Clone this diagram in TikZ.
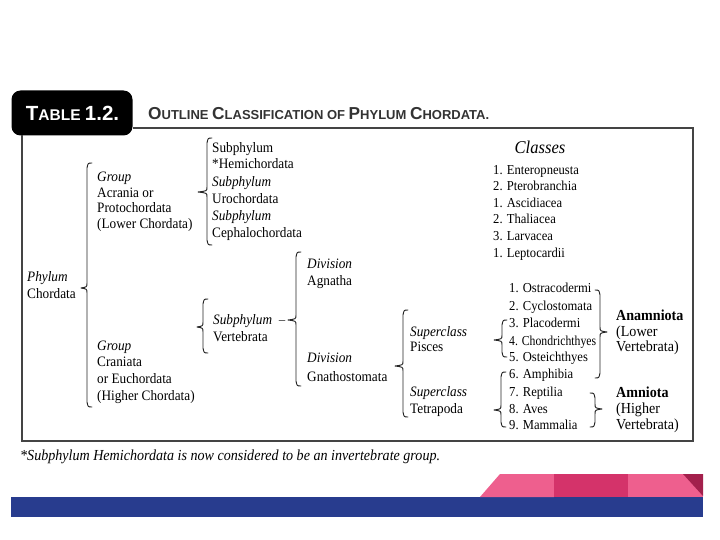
\documentclass[tikz,border=0pt]{standalone}
\usepackage{fontspec}
\setmainfont{Liberation Serif}[FakeStretch=0.92]
\newfontfamily\hdsans{Liberation Sans}
\definecolor{bandblue}{HTML}{283C8E}
\definecolor{pinkA}{HTML}{EE5F8E}
\definecolor{pinkB}{HTML}{D4336A}
\definecolor{pinkC}{HTML}{A3204C}
\definecolor{framegray}{HTML}{444444}
\newcommand\brL[5]{\draw[brace] (#1+5,#2) .. controls (#1+1,#2) .. (#1,#2+5) -- (#1,#5-5) .. controls (#1,#5-1) .. (#4,#5) .. controls (#1,#5+1) .. (#1,#5+5) -- (#1,#3-5) .. controls (#1+1,#3) .. (#1+5,#3);}
\newcommand\brR[5]{\draw[brace] (#1-5,#2) .. controls (#1-1,#2) .. (#1,#2+5) -- (#1,#5-5) .. controls (#1,#5-1) .. (#4,#5) .. controls (#1,#5+1) .. (#1,#5+5) -- (#1,#3-5) .. controls (#1-1,#3) .. (#1-5,#3);}
\begin{document}
\begin{tikzpicture}[x=1pt,y=-1pt,
  tx/.style={anchor=base west, inner sep=0pt, font=\fontsize{14.4}{16}\selectfont},
  ti/.style={anchor=base west, inner sep=0pt, font=\fontsize{14.4}{16}\selectfont\itshape},
  tl/.style={anchor=base west, inner sep=0pt, font=\fontsize{13.7}{16}\selectfont},
  tr/.style={anchor=base west, inner sep=0pt, font=\fontsize{15.3}{16}\selectfont},
  tb/.style={anchor=base west, inner sep=0pt, font=\fontsize{15.3}{16}\selectfont\bfseries},
  brace/.style={draw=black!85, line width=0.95pt, line join=round, line cap=round},
  frame/.style={draw=framegray, line width=1.1pt}]
\useasboundingbox (0,0) rectangle (720,540);
\fill[white] (0,0) rectangle (720,540);

% header
\node[fill=black, rounded corners=9pt, minimum width=121pt, minimum height=45pt, inner sep=0pt] (tab) at (72,113) {};
\node[anchor=base, inner sep=0pt, text=white, font=\hdsans\bfseries] (tabtxt) at (72.5,120.5)
  {\fontsize{20.5}{20}\selectfont T\fontsize{15.5}{15}\selectfont ABLE \fontsize{20.5}{20}\selectfont 1.2.};
\node[anchor=base west, inner sep=0pt, text=black!80, font=\hdsans\bfseries] (title) at (148,120)
  {\fontsize{17.3}{17}\selectfont O\fontsize{13}{13}\selectfont UTLINE \fontsize{17.3}{17}\selectfont C\fontsize{13}{13}\selectfont LASSIFICATION OF \fontsize{17.3}{17}\selectfont P\fontsize{13}{13}\selectfont HYLUM \fontsize{17.3}{17}\selectfont C\fontsize{13}{13}\selectfont HORDATA.};

% frame
\draw[frame] (tab.east |- 0,128) -- (693,128) -- (693,441) -- (22,441) -- (22,135.5);

% phylum
\node[ti] (ph1) at (27,281.5) {Phylum};
\node[tx] (ph2) at (27,298.5) {Chordata};
\brL{87}{163}{407}{81}{288}

% group acrania
\node[ti] (ga1) at (97,181.5) {Group};
\node[tx] (ga2) at (97,197.5) {Acrania or};
\node[tx] (ga3) at (97,213) {Protochordata};
\node[tx] (ga4) at (97,228.5) {(Lower Chordata)};
\brL{207}{138}{245}{198}{192}

% subphyla
\node[tx] (s1) at (212,152.5) {Subphylum};
\node[tx] (s2) at (212,169) {*Hemichordata};
\node[ti] (s3) at (212,186.5) {Subphylum};
\node[tx] (s4) at (212,204) {Urochordata};
\node[ti] (s5) at (212,221) {Subphylum};
\node[tx] (s6) at (212,237.5) {Cephalochordata};

% group craniata
\node[ti] (gc1) at (97,350.5) {Group};
\node[tx] (gc2) at (97,366.5) {Craniata};
\node[tx] (gc3) at (97,383) {or Euchordata};
\node[tx] (gc4) at (97,400) {(Higher Chordata)};
\brL{203}{299}{353}{197}{327}

% vertebrata
\node[ti] (v1) at (213,324.5) {Subphylum};
\node[tx] (v2) at (213,341.5) {Vertebrata};
\brL{296}{252}{386}{288}{320}
\draw[brace, draw=black!60, line width=0.7pt] (279,320) -- (285,320);

% divisions
\node[ti] (d1) at (307,268.5) {Division};
\node[tx] (d2) at (307,285.5) {Agnatha};
\node[ti] (d3) at (307,362.5) {Division};
\node[tx] (d4) at (307,381) {Gnathostomata};
\brL{403}{310}{417}{395}{366}

% classes heading
\node[anchor=base, inner sep=0pt, font=\fontsize{18}{18}\selectfont\itshape] (cls) at (540,153.5) {Classes};
\node[tl] (c1) at (493,174.5) {1. Enteropneusta};
\node[tl] (c2) at (493,190.5) {2. Pterobranchia};
\node[tl] (c3) at (493,207.5) {1. Ascidiacea};
\node[tl] (c4) at (493,224) {2. Thaliacea};
\node[tl] (c5) at (493,240.5) {3. Larvacea};
\node[tl] (c6) at (493,257.5) {1. Leptocardii};

% superclasses
\node[ti] (p1) at (410,336.5) {Superclass};
\node[tx] (p2) at (410,351.5) {Pisces};
\node[ti] (q1) at (410,396.5) {Superclass};
\node[tx] (q2) at (410,413.5) {Tetrapoda};
\brL{502}{320}{357}{494}{340}
\brL{501}{372}{427}{494}{410}

% vertebrate classes
\node[tl] (n1) at (509,292.5) {1. Ostracodermi};
\node[tl] (n2) at (509,310) {2. Cyclostomata};
\node[tl] (n3) at (509,327.5) {3. Placodermi};
\node[tl] (n4) at (509,345) {\scalebox{0.93}[1]{4. Chondrichthyes}};
\node[tl] (n5) at (509,361.5) {5. Osteichthyes};
\node[tl] (n6) at (509,378.5) {6. Amphibia};
\node[tl] (n7) at (509,396.5) {7. Reptilia};
\node[tl] (n8) at (509,413.5) {8. Aves};
\node[tl] (n9) at (509,429.5) {9. Mammalia};
\brR{600}{290}{378}{607}{332}
\brR{595}{393}{427}{602}{409}

% anamniota / amniota
\node[tb] (a1) at (616,320.5) {Anamniota};
\node[tr] (a2) at (616,336) {(Lower};
\node[tr] (a3) at (616,351.5) {Vertebrata)};
\node[tb] (b1) at (616,397.5) {Amniota};
\node[tr] (b2) at (616,413.5) {(Higher};
\node[tr] (b3) at (616,429.5) {Vertebrata)};

% footnote
\node[anchor=base west, inner sep=0pt, font=\fontsize{15.3}{15}\selectfont\itshape] (fn) at (20,460) {*Subphylum Hemichordata is now considered to be an invertebrate group.};

% bottom band
\fill[bandblue] (11,497) rectangle (703,517);
\fill[pinkA] (480,497) -- (500,474) -- (554,474) -- (554,497) -- cycle;
\fill[pinkB] (554,474) rectangle (628,497);
\fill[pinkA] (628,474) -- (703,474) -- (703,497) -- (628,497) -- cycle;
\fill[pinkC] (683,474) -- (703,474) -- (703,496) -- cycle;
\end{tikzpicture}
\end{document}
